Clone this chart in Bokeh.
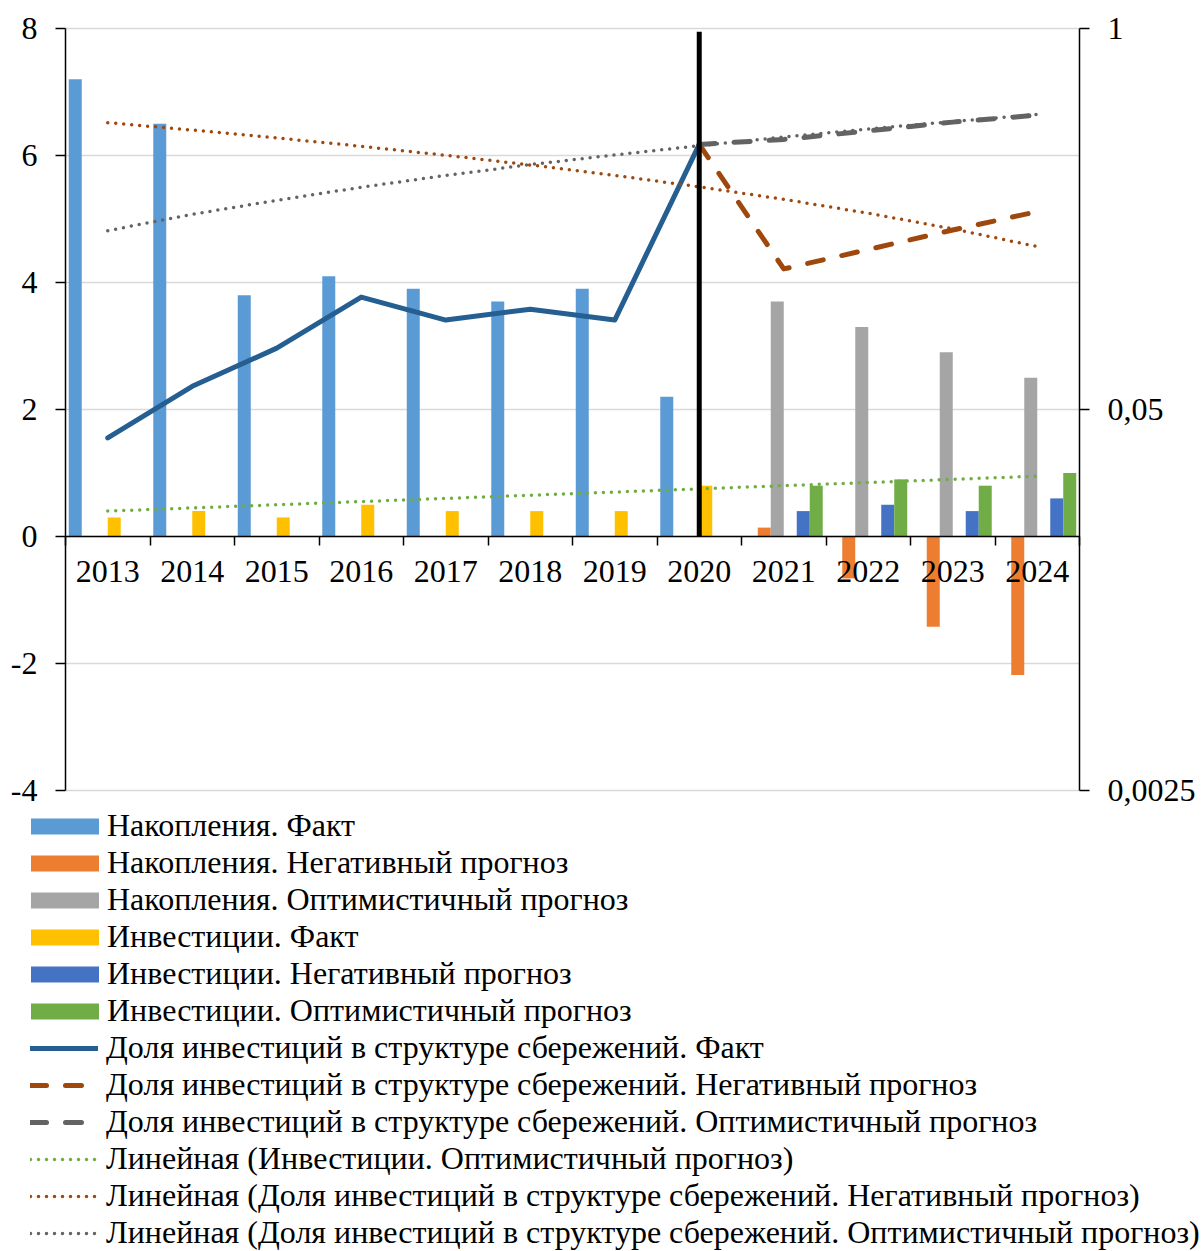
from bokeh.plotting import figure
from bokeh.models import (Range1d, LinearAxis, LogAxis, LogScale, FixedTicker,
                          Legend, LegendItem, CustomJSTickFormatter)
from bokeh.embed import file_html
from bokeh.resources import INLINE
import math

# ---------------- data ----------------
years = [2013, 2014, 2015, 2016, 2017, 2018, 2019, 2020, 2021, 2022, 2023, 2024]

sav_fact = [7.2, 6.5, 3.8, 4.1, 3.9, 3.7, 3.9, 2.2, None, None, None, None]
sav_neg = [None, None, None, None, None, None, None, None, 0.14, -0.66, -1.42, -2.18]
sav_opt = [None, None, None, None, None, None, None, None, 3.7, 3.3, 2.9, 2.5]
inv_fact = [0.3, 0.4, 0.3, 0.5, 0.4, 0.4, 0.4, 0.8, None, None, None, None]
inv_neg = [None, None, None, None, None, None, None, None, 0.4, 0.5, 0.4, 0.6]
inv_opt = [None, None, None, None, None, None, None, None, 0.8, 0.9, 0.8, 1.0]

share_fact = [0.040, 0.060, 0.081, 0.121, 0.101, 0.110, 0.101, 0.402, None, None, None, None]
share_neg = [None, None, None, None, None, None, None, 0.402, 0.151, 0.176, 0.205, 0.237]
share_opt = [None, None, None, None, None, None, None, 0.402, 0.418, 0.447, 0.479, 0.506]

trend_inv_opt = [0.40, 0.45, 0.50, 0.55, 0.60, 0.65, 0.70, 0.75, 0.80, 0.85, 0.90, 0.95]
trend_share_neg = [0.477, 0.450, 0.423, 0.396, 0.369, 0.342, 0.315, 0.288, 0.261, 0.234, 0.207, 0.180]
trend_share_opt = [0.204, 0.232, 0.259, 0.287, 0.315, 0.343, 0.370, 0.398, 0.426, 0.454, 0.481, 0.509]

left_ticks = [-4, -2, 0, 2, 4, 6, 8]
right_ticks = [0.0025, 0.05, 1]
divider_year = 2020
divider_top = 7.95

labels = [
    "Накопления. Факт",
    "Накопления. Негативный прогноз",
    "Накопления. Оптимистичный прогноз",
    "Инвестиции. Факт",
    "Инвестиции. Негативный прогноз",
    "Инвестиции. Оптимистичный прогноз",
    "Доля инвестиций в структуре сбережений. Факт",
    "Доля инвестиций в структуре сбережений. Негативный прогноз",
    "Доля инвестиций в структуре сбережений. Оптимистичный прогноз",
    "Линейная (Инвестиции. Оптимистичный прогноз)",
    "Линейная (Доля инвестиций в структуре сбережений. Негативный прогноз)",
    "Линейная (Доля инвестиций в структуре сбережений. Оптимистичный прогноз)",
]

# ---------------- layout geometry (pixels) ----------------
W, H = 1203, 1251
PL, PR, PT, PB = 65, 1079, 28, 790      # plot box of the chart
LEG_TOP, ITEM_H = 807, 37
FONT = "Liberation Serif"
idx = list(range(len(years)))
n = len(years)

cat_px = (PR - PL) / n
x_start = -0.5 - PL / cat_px
x_end = n - 0.5 + (W - PR) / cat_px
unit_px = (PB - PT) / (left_ticks[-1] - left_ticks[0])
y_start = left_ticks[0] - (H - PB) / unit_px
y_end = left_ticks[-1] + PT / unit_px
dec_px = (PB - PT) / math.log10(right_ticks[-1] / right_ticks[0])
r_start = right_ticks[0] * 10 ** (-(H - PB) / dec_px)
r_end = right_ticks[-1] * 10 ** (PT / dec_px)

p = figure(width=W, height=H, x_range=Range1d(x_start, x_end),
           y_range=Range1d(y_start, y_end),
           x_axis_type=None, y_axis_type=None,
           output_backend="svg", toolbar_location=None,
           min_border=0, min_border_left=0, min_border_right=0,
           min_border_top=0, min_border_bottom=0)
p.outline_line_color = None
p.background_fill_color = "white"
p.extra_y_ranges = {"r": Range1d(r_start, r_end)}
p.extra_y_scales = {"r": LogScale()}

# horizontal gridlines
p.segment(x0=[-0.5] * len(left_ticks), x1=[n - 0.5] * len(left_ticks),
          y0=left_ticks, y1=left_ticks, line_color="#D9D9D9", line_width=1.5)

# bars
bar_w = 0.1538
bar_series = [sav_fact, sav_neg, sav_opt, inv_fact, inv_neg, inv_opt]
bar_colors = ["#5B9BD5", "#ED7D31", "#A5A5A5", "#FFC000", "#4472C4", "#70AD47"]
bar_renderers = []
for k, (vals, col) in enumerate(zip(bar_series, bar_colors)):
    off = (k - 2.5) * bar_w
    xs = [i + off for i, v in zip(idx, vals) if v is not None]
    ys = [v for v in vals if v is not None]
    r = p.vbar(x=xs, top=ys, bottom=0, width=bar_w, fill_color=col, line_color=None)
    bar_renderers.append(r)

def pts(vals):
    xs = [i for i, v in zip(idx, vals) if v is not None]
    ys = [v for v in vals if v is not None]
    return xs, ys

# lines (right, log axis)
line_renderers = []
x, y = pts(share_fact)
line_renderers.append(p.line(x, y, y_range_name="r", line_color="#255E91", line_width=5,
                             line_cap="round", line_join="round"))
x, y = pts(share_neg)
line_renderers.append(p.line(x, y, y_range_name="r", line_color="#9E480E", line_width=5,
                             line_dash="16 19", line_cap="round", line_join="round"))
x, y = pts(share_opt)
line_renderers.append(p.line(x, y, y_range_name="r", line_color="#636363", line_width=5,
                             line_dash="16 19", line_cap="round", line_join="round"))

# trend lines
line_renderers.append(p.line(idx, trend_inv_opt, line_color="#70AD47", line_width=3.5,
                             line_dash="0 8", line_cap="round"))
line_renderers.append(p.line(idx, trend_share_neg, y_range_name="r", line_color="#9E480E",
                             line_width=3.5, line_dash="0 8", line_cap="round"))
line_renderers.append(p.line(idx, trend_share_opt, y_range_name="r", line_color="#636363",
                             line_width=3.5, line_dash="0 8", line_cap="round"))

# divider between fact and forecast
di = years.index(divider_year)
p.segment(x0=[di], y0=[0], x1=[di], y1=[divider_top], line_color="black", line_width=5)

# axes
ax_common = dict(axis_line_color="black", axis_line_width=1.5,
                 major_tick_line_color="black", major_tick_line_width=1.5,
                 minor_tick_line_color=None,
                 major_label_text_font=FONT, major_label_text_font_size="32px",
                 major_label_text_color="black")

yl = LinearAxis(ticker=FixedTicker(ticks=left_ticks), fixed_location=-0.5,
                bounds=(left_ticks[0], left_ticks[-1]),
                major_tick_out=10, major_tick_in=0, major_label_standoff=18,
                formatter=CustomJSTickFormatter(code="return tick.toString()"),
                **ax_common)
p.add_layout(yl, "left")

yr = LogAxis(y_range_name="r", ticker=FixedTicker(ticks=right_ticks), fixed_location=n - 0.5,
             bounds=(right_ticks[0], right_ticks[-1]),
             major_tick_out=10, major_tick_in=0, major_label_standoff=18,
             formatter=CustomJSTickFormatter(code="return tick.toString().replace('.', ',')"),
             **ax_common)
p.add_layout(yr, "right")

xc = dict(ax_common)
xc["minor_tick_line_color"] = "black"
xc["major_tick_line_color"] = None
xa = LinearAxis(ticker=FixedTicker(ticks=idx, minor_ticks=[i - 0.5 for i in range(n + 1)]),
                fixed_location=0, bounds=(-0.5, n - 0.5),
                major_tick_out=9, major_tick_in=0,
                minor_tick_out=9, minor_tick_in=0, minor_tick_line_width=1.5,
                major_label_standoff=15,
                major_label_overrides={i: str(yv) for i, yv in zip(idx, years)}, **xc)
p.add_layout(xa, "below")

leg_common = dict(orientation="vertical", label_height=ITEM_H, spacing=0, padding=0, margin=0,
                  border_line_color=None, background_fill_alpha=0,
                  label_text_font=FONT, label_text_font_size="32px", label_text_color="black")
nb = len(bar_renderers)
nl = len(line_renderers)
# bar swatches are drawn with a 10% inset, so their box is widened
leg_bars = Legend(items=[LegendItem(label=l, renderers=[r]) for l, r in zip(labels[:nb], bar_renderers)],
                  location=(22, H - LEG_TOP - nb * ITEM_H), glyph_width=85, glyph_height=20,
                  label_standoff=-1, **leg_common)
leg_lines = Legend(items=[LegendItem(label=l, renderers=[r]) for l, r in zip(labels[nb:], line_renderers)],
                   location=(30, H - LEG_TOP - (nb + nl) * ITEM_H), glyph_width=68, glyph_height=16,
                   label_standoff=8, **leg_common)
p.add_layout(leg_bars, "center")
p.add_layout(leg_lines, "center")

open("out.html", "w").write(file_html(p, INLINE))
